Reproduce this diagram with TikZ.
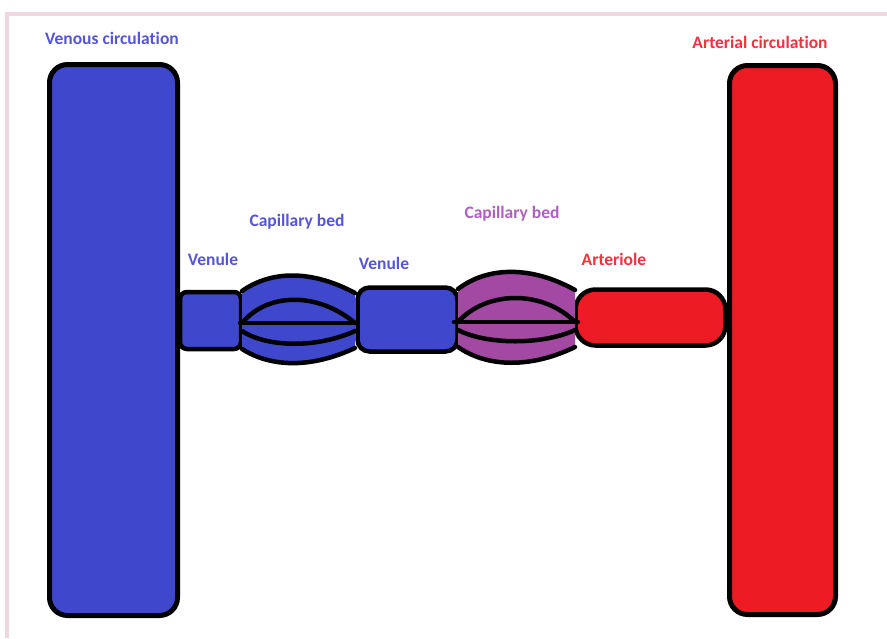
\documentclass[tikz,border=0pt]{standalone}
\usepackage{fontspec}
\setmainfont{Carlito}[RawFeature={-liga}]
\definecolor{vblue}{RGB}{63,72,204}
\definecolor{vred}{RGB}{237,28,36}
\definecolor{vpurple}{RGB}{163,73,164}
\definecolor{tblue}{RGB}{85,85,220}
\definecolor{tred}{RGB}{242,50,62}
\definecolor{tpurple}{RGB}{175,95,195}
\definecolor{frame}{RGB}{240,214,224}
\begin{document}
\begin{tikzpicture}[x=1pt,y=-1pt,
  vessel/.style={draw=black, line width=5pt, rounded corners=#1, inner sep=0pt, outer sep=0pt},
  vessel/.default=18pt,
  lbl/.style={font=\fontsize{17.5}{20}\selectfont\bfseries, inner sep=0pt},
  bedline/.style={draw=black, line width=4.5pt, line cap=round, line join=round}]
\useasboundingbox (0,0) rectangle (887,638);
\fill[white] (0,0) rectangle (887,638);
% frame
\draw[frame, line width=4pt] (7,638) -- (7,14) -- (887,14);

% big vessels
\node[vessel, fill=vblue, minimum width=128pt, minimum height=551pt] (venous) at (113.5,340) {};
\node[vessel, fill=vred, minimum width=106pt, minimum height=549pt] (arterial) at (782.5,340) {};

% small vessels
\node[vessel=7pt, line width=4.5pt, fill=vblue, minimum width=61pt, minimum height=57pt] (venule1) at (210.5,320.5) {};
\node[vessel=12pt, line width=4.5pt, fill=vblue, minimum width=100pt, minimum height=64pt] (venule2) at (407.5,319.5) {};
\node[vessel=20pt, line width=4.5pt, fill=vred, minimum width=150pt, minimum height=56pt] (arteriole) at (650.5,317.5) {};

% capillary bed 1 (blue)
\coordinate (b1l) at (242,323);
\coordinate (b1r) at (355,323);
\fill[vblue] (242,291) .. controls (272,270) and (312,270) .. (355,293)
  -- (355,348) .. controls (312,368) and (272,368) .. (242,349) -- cycle;
\draw[bedline] (242,291) .. controls (272,270) and (312,270) .. (355,293);
\draw[bedline] (355,348) .. controls (312,368) and (272,368) .. (242,349);
\draw[bedline] (242,323) .. controls (268,292) and (318,292) .. (355,323);
\draw[bedline] (242,331) .. controls (268,348) and (318,348) .. (355,331);
\draw[bedline] (b1l) ++(-2,0) -- ([xshift=2pt]b1r);

% capillary bed 2 (purple)
\coordinate (b2l) at (458,322);
\coordinate (b2r) at (575,322);
\fill[vpurple] (458,289) .. controls (488,266) and (532,266) .. (575,290)
  -- (575,347) .. controls (532,368) and (488,368) .. (458,347) -- cycle;
\draw[bedline] (458,289) .. controls (488,266) and (532,266) .. (575,290);
\draw[bedline] (575,347) .. controls (532,368) and (488,368) .. (458,347);
\draw[bedline] (458,322) .. controls (487,290) and (543,290) .. (575,322);
\draw[bedline] (458,330) .. controls (487,345) and (543,345) .. (575,330);
\draw[bedline] (b2l) ++(-4,0) -- ([xshift=3pt]b2r);

% labels
\node[lbl, text=tblue] (lvenous) at (112,38) {Venous circulation};
\node[lbl, text=tred] (larterial) at (760,42) {Arterial circulation};
\node[lbl, text=tblue] (lcap1) at (297,222) {Capillary bed};
\node[lbl, text=tblue] (lven1) at (213,259) {Venule};
\node[lbl, text=tblue] (lven2) at (384,263) {Venule};
\node[lbl, text=tpurple] (lcap2) at (512,214) {Capillary bed};
\node[lbl, text=tred] (lart) at (614,259) {Arteriole};
\end{tikzpicture}
\end{document}
